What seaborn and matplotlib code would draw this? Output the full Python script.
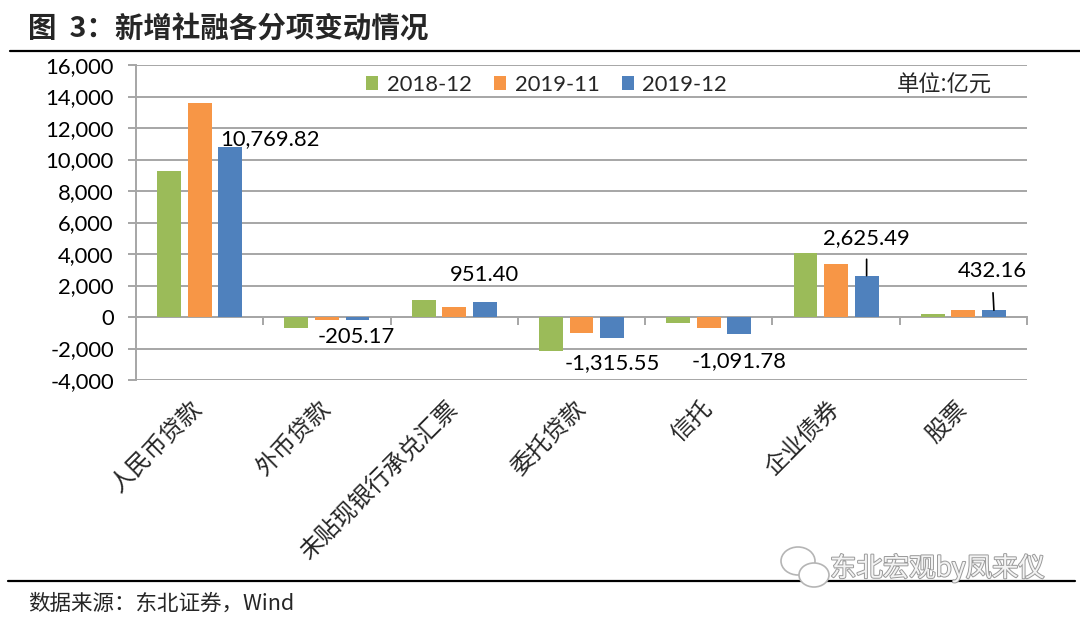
import numpy as np
import pandas as pd
import matplotlib
matplotlib.use("Agg")
import matplotlib.pyplot as plt
import matplotlib.patheffects as pe
from matplotlib.lines import Line2D
from matplotlib.patches import Ellipse
from matplotlib.ticker import FuncFormatter
import seaborn as sns

CATEGORIES = ['人民币贷款', '外币贷款', '未贴现银行承兑汇票', '委托贷款', '信托', '企业债券', '股票']
SERIES = ['2018-12', '2019-11', '2019-12']
VALUES_2018_12 = [9280, -720, 1100, -2190, -400, 4050, 160]
VALUES_2019_11 = [13600, -200, 630, -990, -700, 3360, 460]
VALUES_2019_12 = [10769.82, -205.17, 951.40, -1315.55, -1091.78, 2625.49, 432.16]
COLORS = ['#9BBB59', '#F79646', '#4F81BD']
Y_TICKS = list(range(-4000, 16001, 2000))

GRID = '#A6A6A6'
CJK = ['Noto Sans CJK SC', 'DejaVu Sans']

# long table for seaborn
df = pd.DataFrame({
    'item': CATEGORIES * 3,
    'period': np.repeat(SERIES, len(CATEGORIES)),
    'value': VALUES_2018_12 + VALUES_2019_11 + VALUES_2019_12,
})

sns.set_theme(style='white')
plt.rcParams['font.family'] = ['Lato', 'Noto Sans CJK SC', 'DejaVu Sans']
plt.rcParams['axes.unicode_minus'] = False

fig = plt.figure(figsize=(10.8, 6.21), dpi=100)
ax = fig.add_axes([136 / 1080, 1 - 380 / 621, 891 / 1080, 315 / 621])

sns.barplot(data=df, x='item', y='value', hue='period', order=CATEGORIES,
            hue_order=SERIES, palette=COLORS, saturation=1, width=0.72,
            gap=0.22, linewidth=0, ax=ax)

# axes styling
ax.set_ylim(Y_TICKS[0], Y_TICKS[-1])
ax.set_yticks(Y_TICKS)
ax.yaxis.set_major_formatter(FuncFormatter(lambda v, p: f"{v:,.0f}"))
ax.set_xlabel('')
ax.set_ylabel('')
ax.set_axisbelow(True)
ax.yaxis.grid(True, color=GRID, linewidth=1.4)
for s in ['top', 'right', 'bottom']:
    ax.spines[s].set_visible(False)
ax.spines['left'].set_color(GRID)
ax.spines['left'].set_linewidth(1.4)
ax.tick_params(axis='y', length=6, width=1.4, color=GRID, pad=10,
               labelsize=15.8, labelcolor='black', left=True)
ax.set_xticks(range(len(CATEGORIES)))
ax.set_xticklabels(CATEGORIES, rotation=45, ha='right', va='center',
                   rotation_mode='anchor', fontsize=17, family=CJK)
ax.tick_params(axis='x', length=0, pad=18)

# zero line with ticks between categories
zero_frac = (0 - Y_TICKS[0]) / (Y_TICKS[-1] - Y_TICKS[0])
sec = ax.secondary_xaxis(zero_frac)
sec.set_xticks(np.arange(len(CATEGORIES)) + 0.5)
sec.set_xticklabels([])
sec.tick_params(length=6, width=1.4, color=GRID, direction='out')
for s in ['top', 'bottom']:
    sec.spines[s].set_color(GRID)
    sec.spines[s].set_linewidth(1.4)

# legend + unit
handles, labels = ax.get_legend_handles_labels()
ax.legend(handles, labels, loc='center', bbox_to_anchor=(0.461, 0.937), ncol=3,
          frameon=False, handlelength=0.55, handleheight=0.55, handletextpad=0.4,
          columnspacing=1.0, fontsize=15.8, borderaxespad=0)
ax.text(0.907, 0.937, '单位:亿元', transform=ax.transAxes, ha='center', va='center',
        fontsize=16, family=CJK)

# data labels for 2019-12 (offsets in pixels from bar end)
label_offsets = [(40, 8), (-1, -17), (0, 27), (0, -25), (0, -27), (0, 38), (-2, 39)]
leader = [False, False, False, False, False, True, True]
for bar, v, (dx, dy), ld in zip(ax.containers[2], VALUES_2019_12, label_offsets, leader):
    bx = bar.get_x() + bar.get_width() / 2
    kw = {}
    if ld:
        kw['arrowprops'] = dict(arrowstyle='-', color='black', lw=1.2,
                                shrinkA=6, shrinkB=0)
    ax.annotate(f"{v:,.2f}", xy=(bx, v), xytext=(dx, dy), textcoords='offset pixels',
                ha='center', va='center', fontsize=15.8, color='black', **kw)

# title, rules, source
fig.text(28 / 1080, 1 - 30 / 621, '图  3：新增社融各分项变动情况', fontsize=20.5,
         fontweight='bold', va='center', family=CJK)
fig.add_artist(Line2D([10 / 1080, 1.0], [1 - 51 / 621] * 2, color='black', lw=1.6))
fig.add_artist(Line2D([8 / 1080, 1075 / 1080], [1 - 581 / 621] * 2, color='black', lw=1.6))
fig.text(28 / 1080, 1 - 604 / 621, '数据来源：东北证券，Wind', fontsize=15.5,
         va='center', family=CJK)

# watermark
for cx, cy, w, h in [(798, 561, 34, 28), (814, 575, 30, 24)]:
    fig.add_artist(Ellipse((cx / 1080, 1 - cy / 621), w / 1080, h / 621,
                           transform=fig.transFigure, fc='white', ec='#b5b5b5', lw=1.2,
                           zorder=5))
fig.text(830 / 1080, 1 - 568 / 621, '东北宏观by凤来仪', fontsize=19, color='#f4f4f4',
         va='center', family=CJK, zorder=6,
         path_effects=[pe.withStroke(linewidth=1.4, foreground='#9a9a9a')])

fig.savefig('out.png', dpi=100)
